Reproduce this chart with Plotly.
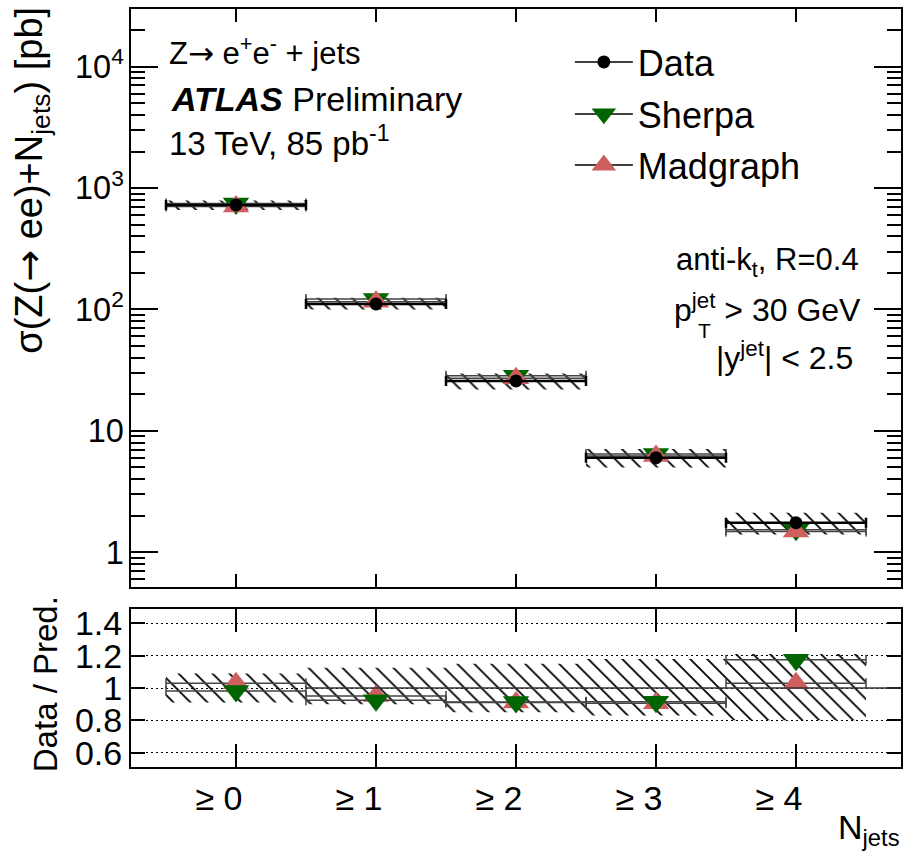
import plotly.graph_objects as go

# ---------------- data ----------------
categories = ["≥ 0", "≥ 1", "≥ 2", "≥ 3", "≥ 4"]
bin_centers = [0, 1, 2, 3, 4]
bin_half_width = [0.5, 0.5, 0.5, 0.5, 0.5]

data_xsec = [726, 111, 25.8, 6.01, 1.75]
sherpa_xsec = [745, 122, 28.5, 6.45, 1.53]
madgraph_xsec = [704, 116, 27.1, 6.21, 1.48]

# relative data uncertainty (band), up / down
data_unc_up = [0.09, 0.125, 0.15, 0.18, 0.21]
data_unc_dn = [0.09, 0.10, 0.15, 0.17, 0.20]

ratio_sherpa = [0.981, 0.924, 0.913, 0.915, 1.175]
ratio_madgraph = [1.03, 0.95, 0.91, 0.905, 1.03]

# ---------------- geometry helpers ----------------
W, H = 903, 857
ML, MR, MT, MB = 131, 0, 9, 90
PW, PH = W - ML - MR, H - MT - MB


def pxx(x):
    return (x - ML) / PW


def pxy(y):
    return (H - MB - y) / PH


FONT = "Liberation Sans, Arial, Helvetica, sans-serif"
ARROW = '<span style="font-family:DejaVu Sans">→</span>'
GREEN = "#006400"
PINK = "#cd5f5f"
TRI = 23

fig = go.Figure()

# ---------------- top panel ----------------
band_base = [d * (1 - dn) for d, dn in zip(data_xsec, data_unc_dn)]
band_len = [d * (up + dn) for d, up, dn in zip(data_xsec, data_unc_up, data_unc_dn)]
hatch = dict(shape="\\", fgcolor="#000000", fgopacity=1, bgcolor="rgba(255,255,255,0)",
             size=12, solidity=0.15, fillmode="replace")

fig.add_trace(go.Bar(
    x=bin_centers, y=band_len, base=band_base, width=[2 * w for w in bin_half_width],
    marker=dict(color="rgba(0,0,0,0)", line=dict(width=0), pattern=hatch), opacity=1,
    xaxis="x", yaxis="y", showlegend=False, hoverinfo="skip"))

fig.add_trace(go.Scatter(
    x=bin_centers, y=sherpa_xsec, mode="markers",
    marker=dict(symbol="triangle-down", size=TRI, color=GREEN),
    error_x=dict(type="data", array=bin_half_width, color="#444", thickness=1.5, width=5),
    xaxis="x", yaxis="y", showlegend=False))
fig.add_trace(go.Scatter(
    x=bin_centers, y=madgraph_xsec, mode="markers",
    marker=dict(symbol="triangle-up", size=TRI, color=PINK),
    error_x=dict(type="data", array=bin_half_width, color="#444", thickness=1.5, width=5),
    xaxis="x", yaxis="y", showlegend=False))
fig.add_trace(go.Scatter(
    x=bin_centers, y=data_xsec, mode="markers",
    marker=dict(symbol="circle", size=13, color="black"),
    error_x=dict(type="data", array=bin_half_width, color="black", thickness=2.5, width=5),
    xaxis="x", yaxis="y", showlegend=False))

# ---------------- bottom panel ----------------
rband_base = [1 - dn for dn in data_unc_dn]
rband_len = [up + dn for up, dn in zip(data_unc_up, data_unc_dn)]
fig.add_trace(go.Bar(
    x=bin_centers, y=rband_len, base=rband_base, width=[2 * w for w in bin_half_width],
    marker=dict(color="rgba(0,0,0,0)", line=dict(width=0), pattern=hatch), opacity=1,
    xaxis="x2", yaxis="y2", showlegend=False, hoverinfo="skip"))

fig.add_trace(go.Scatter(
    x=bin_centers, y=ratio_madgraph, mode="markers",
    marker=dict(symbol="triangle-up", size=TRI, color=PINK),
    error_x=dict(type="data", array=bin_half_width, color="#444", thickness=1.5, width=5),
    xaxis="x2", yaxis="y2", showlegend=False))
fig.add_trace(go.Scatter(
    x=bin_centers, y=ratio_sherpa, mode="markers",
    marker=dict(symbol="triangle-down", size=TRI, color=GREEN),
    error_x=dict(type="data", array=bin_half_width, color="#444", thickness=1.5, width=5),
    xaxis="x2", yaxis="y2", showlegend=False))

# ---------------- legend entries ----------------
legend_names = ["Data", "Sherpa", "Madgraph"]
legend_markers = [
    dict(symbol="circle", size=13, color="black"),
    dict(symbol="triangle-down", size=16, color=GREEN, line=dict(color=GREEN, width=3)),
    dict(symbol="triangle-up", size=16, color=PINK, line=dict(color=PINK, width=3)),
]
legend_ids = ["legend", "legend2", "legend3"]
legend_ypx = [62, 114, 165]
for name, mk, lid in zip(legend_names, legend_markers, legend_ids):
    fig.add_trace(go.Scatter(
        x=[None], y=[None], mode="lines+markers", name=name,
        line=dict(color="black", width=1.5), marker=mk,
        xaxis="x", yaxis="y", showlegend=True, legend=lid))

legend_common = dict(font=dict(family=FONT, size=36, color="black"),
                     bgcolor="rgba(0,0,0,0)", borderwidth=0, itemwidth=58,
                     xanchor="left", yanchor="middle", x=pxx(571))
layout_legends = {lid: dict(legend_common, y=pxy(yp)) for lid, yp in zip(legend_ids, legend_ypx)}

# ---------------- axes ----------------
axis_line = dict(showline=True, linecolor="black", linewidth=2, mirror="ticks",
                 ticks="inside", tickcolor="black", tickwidth=1.5, zeroline=False)

top_lo, top_hi = 587, 9
bot_lo, bot_hi = 767, 609

fig.update_layout(
    width=W, height=H,
    margin=dict(l=ML, r=MR, t=MT, b=MB),
    paper_bgcolor="white", plot_bgcolor="white",
    barmode="overlay",
    font=dict(family=FONT, color="black"),
    xaxis=dict(axis_line, domain=[0, 1], anchor="y", range=[-0.75, 4.75],
               tickmode="array", tickvals=bin_centers, showticklabels=False,
               ticklen=13, showgrid=False),
    yaxis=dict(axis_line, domain=[pxy(top_lo), 1], anchor="x", type="log",
               range=[-0.286, 4.475], dtick=1, exponentformat="power",
               ticklen=27, showgrid=False,
               tickfont=dict(family=FONT, size=26, color="black"),
               minor=dict(ticks="inside", ticklen=14, tickwidth=1.5, tickcolor="black",
                          dtick="D1", showgrid=False)),
    xaxis2=dict(axis_line, domain=[0, 1], anchor="y2", range=[-0.75, 4.75], matches="x",
                tickmode="array", tickvals=bin_centers, ticktext=categories,
                ticklen=23, showgrid=False, ticklabelshift=-17, ticklabelstandoff=0,
                tickfont=dict(family=FONT, size=34, color="black")),
    yaxis2=dict(axis_line, domain=[0, pxy(bot_hi)], anchor="x2",
                range=[0.511, 1.489], tickmode="linear", tick0=0.6, dtick=0.2,
                ticklen=14, showgrid=True, gridcolor="black", gridwidth=1,
                griddash="2px,3px",
                tickfont=dict(family=FONT, size=34, color="black")),
    **layout_legends,
)

# reference line at unity in the ratio panel
fig.add_shape(type="line", xref="x2", yref="y2",
              x0=bin_centers[1] - bin_half_width[1], x1=4.75, y0=1, y1=1,
              line=dict(color="#333", width=1.5))

# ---------------- texts ----------------
def note(text, x, y, size, xanchor="left", yanchor="middle", angle=0):
    fig.add_annotation(text=text, xref="paper", yref="paper", x=pxx(x), y=pxy(y),
                       xanchor=xanchor, yanchor=yanchor, textangle=angle, showarrow=False,
                       font=dict(family=FONT, size=size, color="black"))


note("Z" + ARROW + " e<sup>+</sup>e<sup>-</sup> + jets", 167, 51, 31)
note("<b><i>ATLAS</i></b> Preliminary", 169, 99, 34)
note("13 TeV, 85 pb<sup>-1</sup>", 167, 141, 33)

note("anti-k<sub>t</sub>, R=0.4", 863, 262, 31, xanchor="right")
note("p<sup>jet</sup> > 30 GeV", 865, 308, 32, xanchor="right")
note("T", 706, 330, 21, xanchor="center")
note("|y<sup>jet</sup>| < 2.5", 857, 356, 32, xanchor="right")

note("σ(Z(" + ARROW + " ee)+N<sub>jets</sub>) [pb]", 31, 5, 38,
     xanchor="center", yanchor="top", angle=-90)
note("Data / Pred.", 45, 684, 33, xanchor="center", yanchor="middle", angle=-90)
note("N<sub>jets</sub>", 904, 829, 34, xanchor="right")

fig.write_html("out.html", config={"displayModeBar": False},
               post_script="document.body.style.margin='0';")
